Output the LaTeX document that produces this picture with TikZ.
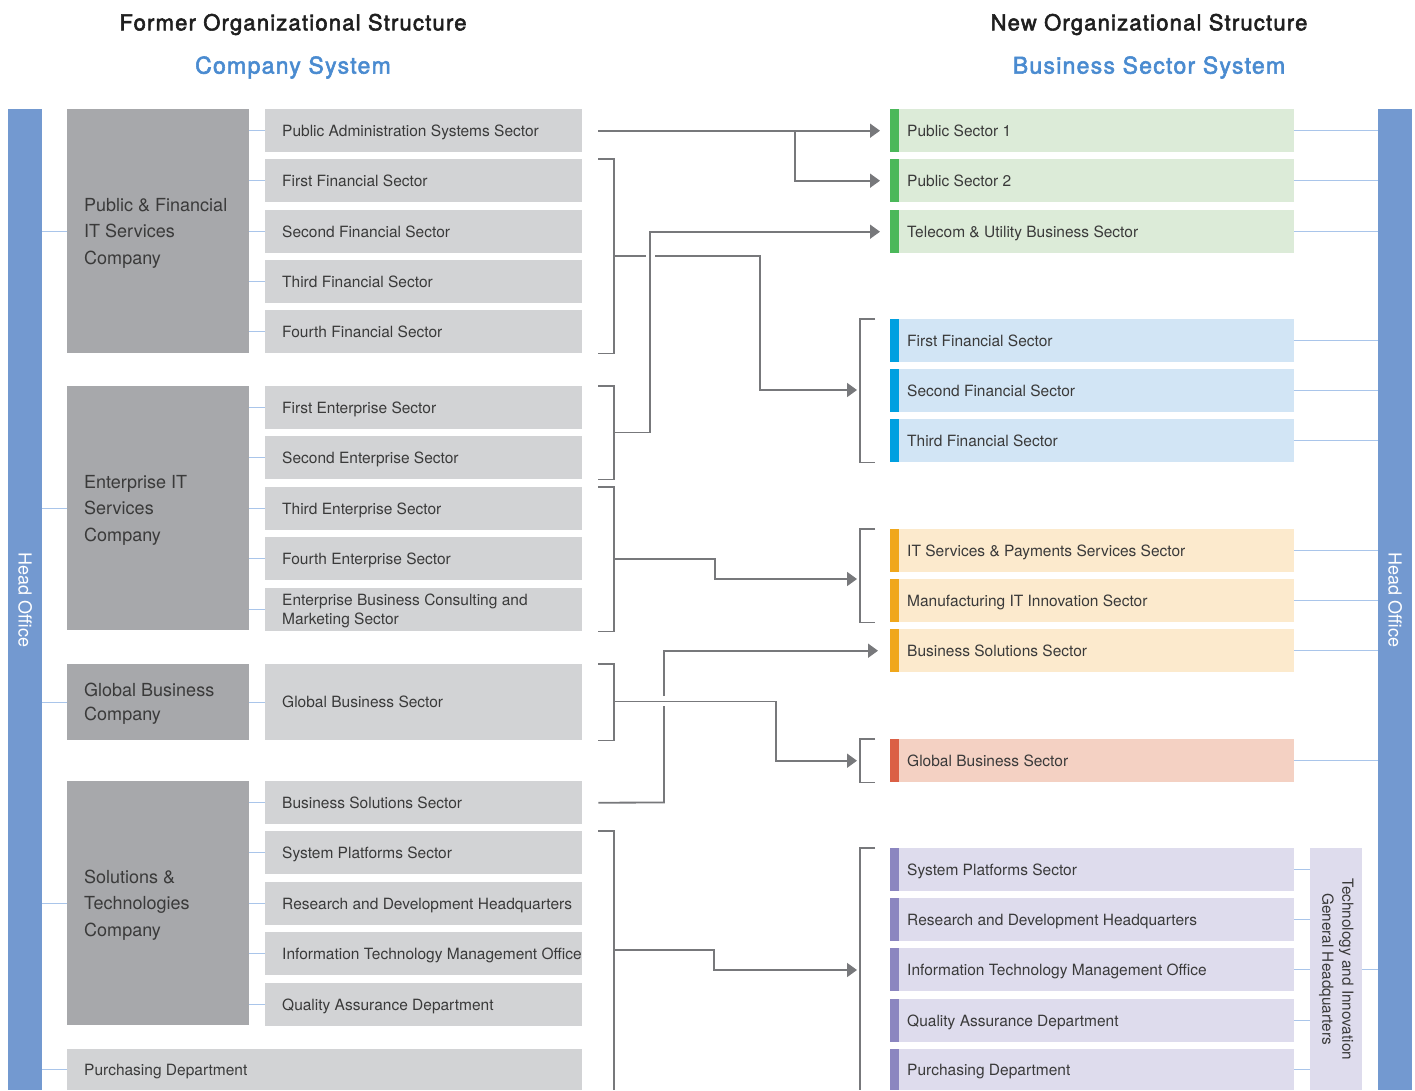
\documentclass[tikz,border=0pt]{standalone}
\usepackage{fontspec}
\setmainfont{TeX Gyre Heros}
\newfontfamily\headfont[FakeBold=2.5,LetterSpace=5.5]{TeX Gyre Heros}
\usetikzlibrary{arrows.meta,calc}

\definecolor{hoblue}{HTML}{7399D0}
\definecolor{linkblue}{HTML}{A9C5EA}
\definecolor{cogray}{HTML}{A7A8AB}
\definecolor{subgray}{HTML}{D2D3D5}
\definecolor{txt}{HTML}{3A3A3A}
\definecolor{conn}{HTML}{77787B}
\definecolor{titleblue}{HTML}{4A8BD0}
\definecolor{grnfill}{HTML}{DCEBD8}
\definecolor{grnbar}{HTML}{4BB85A}
\definecolor{blufill}{HTML}{D2E5F5}
\definecolor{blubar}{HTML}{00A0E0}
\definecolor{orgfill}{HTML}{FCEACD}
\definecolor{orgbar}{HTML}{F0A71B}
\definecolor{redfill}{HTML}{F4D1C3}
\definecolor{redbar}{HTML}{DB6045}
\definecolor{purfill}{HTML}{DEDCED}
\definecolor{purbar}{HTML}{8B86C0}

\tikzset{
  box/.style={rectangle, draw=none, inner sep=0pt, anchor=north west},
  hobar/.style={box, fill=hoblue, minimum width=34pt, minimum height=981pt},
  hotext/.style={rotate=-90, text=white, font=\fontsize{18}{20}\selectfont},
  cobox/.style={box, fill=cogray, minimum width=182pt, minimum height=#1},
  cotext/.style={anchor=west, xshift=17pt, yshift=-2pt, inner sep=0pt, align=left,
    text=txt, font=\fontsize{18}{26.5}\selectfont},
  subbox/.style={box, fill=subgray, minimum width=317pt, minimum height=#1},
  subbox/.default=43pt,
  subtext/.style={anchor=base west, xshift=17pt, yshift=-5.5pt, align=left,
    text=txt, inner sep=0pt, font=\fontsize{15.5}{19}\selectfont},
  newbox/.style 2 args={box, fill=#1, minimum width=404pt, minimum height=43pt,
    path picture={\fill[#2] (path picture bounding box.north west) rectangle
      ([xshift=9pt]path picture bounding box.south west);}},
  link/.style={draw=linkblue, line width=1.1pt},
  conn/.style={draw=conn, line width=1.8pt},
  arr/.style={conn, -{Triangle[length=10pt,width=14pt]}},
  headtext/.style={font=\headfont\fontsize{22}{26}\selectfont, text=black!88},
  systext/.style={font=\headfont\fontsize{23}{27}\selectfont, text=titleblue},
}

\begin{document}
\begin{tikzpicture}[x=1pt,y=-1pt]
\useasboundingbox (0,0) rectangle (1415,1090);

% ---------- headings ----------
\node[headtext] (hfo) at (293,24.5) {Former Organizational Structure};
\node[systext]  (hcs) at (293,67.5) {Company System};
\node[headtext] (hno) at (1149,24.5) {New Organizational Structure};
\node[systext]  (hbs) at (1149,67.5) {Business Sector System};

% ---------- head office bars ----------
\node[hobar] (hoL) at (8,109) {};
\node[hotext] (hoLt) at (hoL.center) {Head Office};
\node[hobar] (hoR) at (1378,109) {};
\node[hotext] (hoRt) at (hoR.center) {Head Office};

% ---------- former structure: companies ----------
\node[cobox=244pt] (cpf) at (67,109) {};
\node[cotext] (cpft) at (cpf.west) {Public \& Financial\\IT Services\\Company};
\node[cobox=244pt] (cent) at (67,386) {};
\node[cotext] (centt) at (cent.west) {Enterprise IT\\Services\\Company};
\node[cobox=76pt] (cgl) at (67,664) {};
\node[cotext, font=\fontsize{18}{24}\selectfont] (cglt) at (cgl.west) {Global Business\\Company};
\node[cobox=244pt] (csol) at (67,781) {};
\node[cotext] (csolt) at (csol.west) {Solutions \&\\Technologies\\Company};

% ---------- former structure: sectors ----------
\node[subbox] (a1) at (265,109) {};
\node[subtext] (a1t) at (a1.west) {Public Administration Systems Sector};
\node[subbox] (a2) at (265,159) {};
\node[subtext] (a2t) at (a2.west) {First Financial Sector};
\node[subbox] (a3) at (265,210) {};
\node[subtext] (a3t) at (a3.west) {Second Financial Sector};
\node[subbox] (a4) at (265,260) {};
\node[subtext] (a4t) at (a4.west) {Third Financial Sector};
\node[subbox] (a5) at (265,310) {};
\node[subtext] (a5t) at (a5.west) {Fourth Financial Sector};

\node[subbox] (b1) at (265,386) {};
\node[subtext] (b1t) at (b1.west) {First Enterprise Sector};
\node[subbox] (b2) at (265,436) {};
\node[subtext] (b2t) at (b2.west) {Second Enterprise Sector};
\node[subbox] (b3) at (265,487) {};
\node[subtext] (b3t) at (b3.west) {Third Enterprise Sector};
\node[subbox] (b4) at (265,537) {};
\node[subtext] (b4t) at (b4.west) {Fourth Enterprise Sector};
\node[subbox] (b5) at (265,588) {};
\node[subtext, anchor=west, yshift=4.5pt] (b5t) at (b5.west) {Enterprise Business Consulting and\\Marketing Sector};

\node[subbox=76pt] (g1) at (265,664) {};
\node[subtext] (g1t) at (g1.west) {Global Business Sector};

\node[subbox] (d1) at (265,781) {};
\node[subtext] (d1t) at (d1.west) {Business Solutions Sector};
\node[subbox] (d2) at (265,831) {};
\node[subtext] (d2t) at (d2.west) {System Platforms Sector};
\node[subbox] (d3) at (265,882) {};
\node[subtext] (d3t) at (d3.west) {Research and Development Headquarters};
\node[subbox] (d4) at (265,932) {};
\node[subtext] (d4t) at (d4.west) {Information Technology Management Office};
\node[subbox] (d5) at (265,983) {};
\node[subtext] (d5t) at (d5.west) {Quality Assurance Department};

\node[box, fill=subgray, minimum width=515pt, minimum height=41pt] (pd) at (67,1049) {};
\node[subtext] (pdt) at (pd.west) {Purchasing Department};

% ---------- former structure: links ----------
\foreach \c in {cpf,cent,cgl,csol,pd}
  \draw[link] (\c.west -| hoL.east) -- (\c.west);
\foreach \s in {a1,a2,a3,a4,a5}
  \draw[link] (\s.west -| cpf.east) -- (\s.west);
\foreach \s in {b1,b2,b3,b4,b5}
  \draw[link] (\s.west -| cent.east) -- (\s.west);
\draw[link] (g1.west -| cgl.east) -- (g1.west);
\foreach \s in {d1,d2,d3,d4,d5}
  \draw[link] (\s.west -| csol.east) -- (\s.west);

% ---------- new structure: sectors ----------
\node[newbox={grnfill}{grnbar}] (n1) at (890,109) {};
\node[subtext] (n1t) at (n1.west) {Public Sector 1};
\node[newbox={grnfill}{grnbar}] (n2) at (890,159) {};
\node[subtext] (n2t) at (n2.west) {Public Sector 2};
\node[newbox={grnfill}{grnbar}] (n3) at (890,210) {};
\node[subtext] (n3t) at (n3.west) {Telecom \& Utility Business Sector};

\node[newbox={blufill}{blubar}] (f1) at (890,319) {};
\node[subtext] (f1t) at (f1.west) {First Financial Sector};
\node[newbox={blufill}{blubar}] (f2) at (890,369) {};
\node[subtext] (f2t) at (f2.west) {Second Financial Sector};
\node[newbox={blufill}{blubar}] (f3) at (890,419) {};
\node[subtext] (f3t) at (f3.west) {Third Financial Sector};

\node[newbox={orgfill}{orgbar}] (o1) at (890,529) {};
\node[subtext] (o1t) at (o1.west) {IT Services \& Payments Services Sector};
\node[newbox={orgfill}{orgbar}] (o2) at (890,579) {};
\node[subtext] (o2t) at (o2.west) {Manufacturing IT Innovation Sector};
\node[newbox={orgfill}{orgbar}] (o3) at (890,629) {};
\node[subtext] (o3t) at (o3.west) {Business Solutions Sector};

\node[newbox={redfill}{redbar}] (r1) at (890,739) {};
\node[subtext] (r1t) at (r1.west) {Global Business Sector};

\node[newbox={purfill}{purbar}] (p1) at (890,848) {};
\node[subtext] (p1t) at (p1.west) {System Platforms Sector};
\node[newbox={purfill}{purbar}] (p2) at (890,898) {};
\node[subtext] (p2t) at (p2.west) {Research and Development Headquarters};
\node[newbox={purfill}{purbar}] (p3) at (890,948) {};
\node[subtext] (p3t) at (p3.west) {Information Technology Management Office};
\node[newbox={purfill}{purbar}] (p4) at (890,999) {};
\node[subtext] (p4t) at (p4.west) {Quality Assurance Department};
\node[newbox={purfill}{purbar}, minimum height=41pt] (p5) at (890,1049) {};
\node[subtext] (p5t) at (p5.west) {Purchasing Department};

\node[box, fill=purfill, minimum width=52pt, minimum height=242pt] (tech) at (1310,848) {};
\node[rotate=-90, align=center, text=txt, font=\fontsize{15.3}{20}\selectfont] (techt)
  at (tech.center) {Technology and Innovation\\General Headquarters};

% ---------- new structure: links ----------
\foreach \s in {n1,n2,n3,f1,f2,f3,o1,o2,o3,r1}
  \draw[link] (\s.east) -- (\s.east -| hoR.west);
\foreach \s in {p1,p2,p3,p4,p5}
  \draw[link] (\s.east) -- (\s.east -| tech.west);
\draw[link] (tech.east) -- (tech.east -| hoR.west);

% ---------- reorganisation connectors ----------
% brackets on the former side
\coordinate (bxa) at (614,0);
\draw[conn] ($(a2.north east)+(16,0)$) -| (bxa |- a5.south) -- ($(a5.south east)+(16,0)$);
\draw[conn] ($(b1.north east)+(16,0)$) -| (bxa |- b2.south) -- ($(b2.south east)+(16,0)$);
\draw[conn] ($(b3.north east)+(16,0)$) -| (bxa |- b5.south) -- ($(b5.south east)+(16,0)$);
\draw[conn] ($(g1.north east)+(16,0)$) -| (bxa |- g1.south) -- ($(g1.south east)+(16,0)$);
\draw[conn] ($(d2.north east)+(16,0)$) -| (bxa |- pd.south);

% brackets on the new side
\coordinate (bxn) at (860,0);
\draw[conn] ($(f1.north west)+(-15,0)$) -| (bxn |- f3.south) -- ($(f3.south west)+(-15,0)$);
\draw[conn] ($(o1.north west)+(-15,0)$) -| (bxn |- o2.south) -- ($(o2.south west)+(-15,0)$);
\draw[conn] ($(r1.north west)+(-15,0)$) -| (bxn |- r1.south) -- ($(r1.south west)+(-15,0)$);
\draw[conn] ($(p1.north west)+(-15,0)$) -| (bxn |- p5.south);

% public administration -> public sectors 1 and 2
\coordinate (pa) at ($(a1.east)+(16,0)$);
\draw[arr] (pa) -- ($(n1.west)+(-10,0)$);
\draw[arr] (795,130.5) |- ($(n2.west)+(-10,0)$);

% first/second enterprise -> telecom & utility
\draw[arr] (614,432.5) -- (650,432.5) |- ($(n3.west)+(-10,0)$);

% financial -> financial (with a hop over the vertical line)
\draw[conn] (614,256) -- (646,256);
\draw[arr] (655,256) -- (760,256) |- ($(bxn |- f2.north)+(-3,21)$);

% third..fifth enterprise -> IT services & manufacturing
\draw[arr] (614,559) -- (715,559) |- (857,579);

% global -> global
\draw[arr] (614,701.5) -- (776,701.5) |- ($(bxn |- r1.west)+(-3,0)$);

% business solutions -> business solutions (hop over the global line)
\coordinate (bs) at ($(d1.east)+(16,0)$);
\draw[conn] (bs) -- (664,802.5) -- (664,706);
\draw[arr] (664,696) |- ($(o3.west)+(-12,0)$);

% solutions & technologies -> technology and innovation
\draw[arr] (614,950) -- (714,950) |- (857,970);

\end{tikzpicture}
\end{document}
